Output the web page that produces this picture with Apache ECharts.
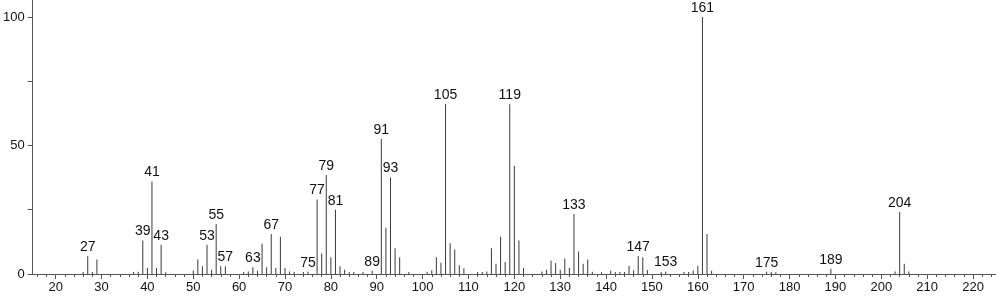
<!DOCTYPE html>
<html>
<head>
<meta charset="utf-8">
<script src="https://cdn.jsdelivr.net/npm/echarts@6/dist/echarts.min.js"></script>
<style>
html,body{margin:0;padding:0;background:#fff;}
#chart{width:996px;height:299px;}
</style>
</head>
<body>
<div id="chart"></div>
<script>
const mz = [26,27,28,29,37,38,39,40,41,42,43,44,50,51,52,53,54,55,56,57,61,62,63,64,65,66,67,68,69,70,71,72,74,75,77,78,79,80,81,82,83,84,85,87,89,91,92,93,94,95,97,101,102,103,104,105,106,107,108,109,112,113,114,115,116,117,118,119,120,121,122,126,127,128,129,130,131,132,133,134,135,136,137,139,141,142,143,144,145,146,147,148,149,152,153,157,158,159,160,161,162,163,175,176,177,189,203,204,205,206];
const intensity = [0.8,6.9,0.8,5.6,0.8,0.9,13,2.3,36,2.3,11.4,0.7,1.4,5.6,3,11.4,1.7,19.5,3,3,0.8,1,2.6,1.3,11.8,2.6,15.6,2.3,14.5,2.3,1,0.8,0.8,0.9,29,8,38.5,6.5,25,3,1.7,0.8,0.8,0.8,1.3,52.5,18,37.5,10,6.5,0.8,0.8,1.5,6.5,4.4,66,12,9.5,3.4,2.2,0.8,0.8,1,10,4,14.5,4.7,66,42,13,2.3,1,1.7,5.3,4.3,1.7,6,2.3,23.3,8.8,4,5.6,0.9,0.7,1.3,0.8,0.8,0.8,3.2,1.5,7,6.5,1.6,0.8,1,0.8,0.8,1.4,3.2,100,15.6,1.3,0.9,0.8,0.7,2,1,24.1,4,1];
const labeledPeaks = [27,39,41,43,53,55,57,63,67,75,77,79,81,89,91,93,105,119,133,147,153,161,175,189,204];
const xMajorTicks = [20,30,40,50,60,70,80,90,100,110,120,130,140,150,160,170,180,190,200,210,220];
const xMinorTicks = [16,18,22,24,26,28,32,34,36,38,42,44,46,48,52,54,56,58,62,64,66,68,72,74,76,78,82,84,86,88,92,94,96,98,102,104,106,108,112,114,116,118,122,124,126,128,132,134,136,138,142,144,146,148,152,154,156,158,162,164,166,168,172,174,176,178,182,184,186,188,192,194,196,198,202,204,206,208,212,214,216,218,222,224];
const yTicks = [0,25,50,75,100];
const yLabels = [0,50,100];

const FONT = "'Liberation Sans', Arial, sans-serif";
const axisColor = '#555';

const chart = echarts.init(document.getElementById('chart'), null, {renderer:'canvas'});
chart.setOption({
  animation: false,
  backgroundColor: '#fff',
  grid: {left: 30, right: 0, top: 0, bottom: 25, containLabel: false},
  xAxis: [
    {
      type: 'value', min: 15, max: 225, position: 'bottom',
      axisLine: {show: true, lineStyle: {color: axisColor, width: 1}},
      axisTick: {show: true, customValues: xMajorTicks, length: 5, lineStyle: {color: axisColor}},
      axisLabel: {show: true, customValues: xMajorTicks, fontSize: 13, color: '#111', fontFamily: FONT, margin: 7},
      splitLine: {show: false}
    },
    {
      type: 'value', min: 15, max: 225, position: 'bottom',
      axisLine: {show: false},
      axisTick: {show: true, customValues: xMinorTicks, length: 3, lineStyle: {color: axisColor}},
      axisLabel: {show: false},
      splitLine: {show: false}
    }
  ],
  yAxis: {
    type: 'value', min: 0, max: 106.6,
    axisLine: {show: true, lineStyle: {color: axisColor, width: 1}},
    axisTick: {show: true, customValues: yTicks, length: 5, lineStyle: {color: axisColor}},
    axisLabel: {show: true, customValues: yLabels, fontSize: 13, color: '#111', fontFamily: FONT, margin: 8},
    splitLine: {show: false}
  },
  series: [{
    type: 'bar',
    xAxisIndex: 0,
    barWidth: 1,
    silent: true,
    itemStyle: {color: '#3a3a3a'},
    label: {
      position: 'top', distance: 2, fontSize: 14, color: '#111', fontFamily: FONT,
      formatter: p => String(p.value[0])
    },
    data: mz.map((m, i) => ({
      value: [m, intensity[i]],
      label: {show: labeledPeaks.includes(m)}
    }))
  }]
});
</script>
</body>
</html>
